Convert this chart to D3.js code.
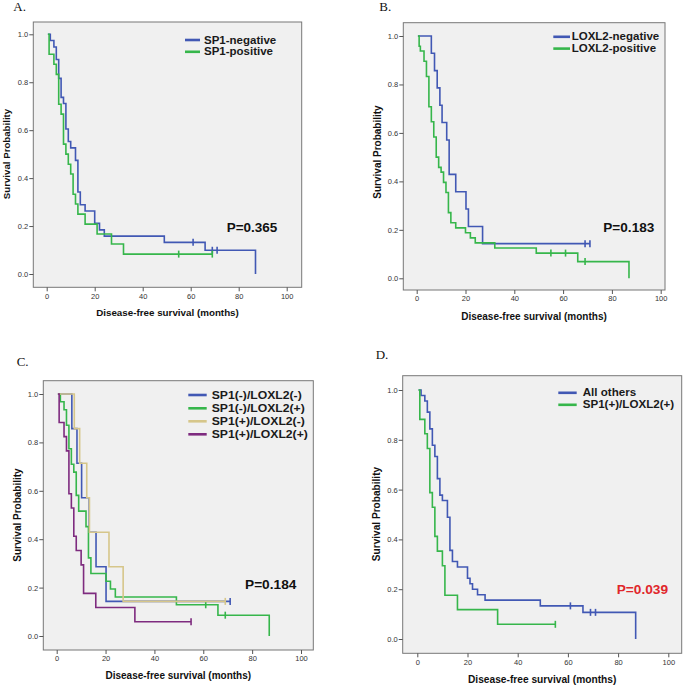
<!DOCTYPE html>
<html><head><meta charset="utf-8">
<script src="https://cdn.jsdelivr.net/npm/d3@7/dist/d3.min.js"></script>
<style>body{margin:0;background:#fff}svg{display:block}</style>
</head><body>
<svg id="c" width="685" height="686"></svg>
<script>
// ---------------- data ----------------
const xTicks = [0, 20, 40, 60, 80, 100];
const yTicks = [0, 0.2, 0.4, 0.6, 0.8, 1.0];
const panelLetters = ["A.", "B.", "C.", "D."];
const pValues = ["P=0.365", "P=0.183", "P=0.184", "P=0.039"];
const xTitle = "Disease-free survival (months)";
const yTitle = "Survival Probability";
const legendA = ["SP1-negative", "SP1-positive"];
const legendB = ["LOXL2-negative", "LOXL2-positive"];
const legendC = ["SP1(-)/LOXL2(-)", "SP1(-)/LOXL2(+)", "SP1(+)/LOXL2(-)", "SP1(+)/LOXL2(+)"];
const legendD = ["All others", "SP1(+)/LOXL2(+)"];

// Panel A
const aNegTime   = [1.5, 3, 4, 5, 6, 7, 8, 9, 10, 12, 13, 14, 16, 20, 22, 24, 49, 66, 87];
const aNegSurv   = [0.974, 0.947, 0.895, 0.816, 0.737, 0.711, 0.605, 0.553, 0.526, 0.474, 0.342, 0.289, 0.263, 0.211, 0.184, 0.158, 0.132, 0.099, 0];
const aNegCensor = [61, 69, 71];
const aPosTime   = [1, 3, 4, 5, 6, 7, 8, 9, 10, 11, 12, 13, 16, 21, 27, 32];
const aPosSurv   = [0.917, 0.875, 0.833, 0.708, 0.667, 0.542, 0.5, 0.458, 0.417, 0.333, 0.292, 0.25, 0.208, 0.167, 0.125, 0.083];
const aPosCensor = [55, 69];

// Panel B
const bNegTime   = [6, 7.3, 8.4, 9.5, 10.4, 12.3, 13.3, 16, 20.2, 21.2, 27];
const bNegSurv   = [0.929, 0.857, 0.786, 0.714, 0.643, 0.571, 0.429, 0.357, 0.286, 0.214, 0.143];
const bNegCensor = [69, 71];
const bPosTime   = [1, 1.5, 3, 4, 5, 6, 7, 8, 9, 10, 11, 12, 13, 14, 16, 20, 22, 24, 32, 49, 66, 87];
const bPosSurv   = [0.958, 0.938, 0.896, 0.833, 0.708, 0.646, 0.583, 0.5, 0.458, 0.438, 0.396, 0.354, 0.271, 0.229, 0.208, 0.188, 0.167, 0.146, 0.125, 0.104, 0.069, 0];
const bPosCensor = [55, 61, 69];

// Panel C
const cNNTime   = [6.2, 8.3, 10.2, 13.3, 16.1, 20.2];
const cNNSurv   = [0.857, 0.714, 0.571, 0.429, 0.286, 0.143];
const cNNCensor = [71];
const cNPTime   = [1.5, 3, 4, 5, 6, 7, 8, 9, 12, 13, 14, 20.2, 22, 24, 49, 66, 87];
const cNPSurv   = [0.968, 0.935, 0.871, 0.774, 0.710, 0.677, 0.581, 0.516, 0.452, 0.323, 0.258, 0.226, 0.194, 0.161, 0.129, 0.086, 0];
const cNPCensor = [61, 69];
const cPNTime   = [7.2, 9.4, 12.3, 13.4, 21.4, 27.2];
const cPNSurv   = [0.857, 0.714, 0.571, 0.429, 0.286, 0.143];
const cPNCensor = [69];
const cPPTime   = [1, 3, 4, 5, 6, 7, 8, 10, 11, 16, 32];
const cPPSurv   = [0.882, 0.824, 0.765, 0.588, 0.529, 0.412, 0.353, 0.294, 0.176, 0.118, 0.059];
const cPPCensor = [55];

// Panel D
const dOthTime   = [1.5, 3, 4, 5, 6, 7, 8, 9, 10, 12, 13, 14, 16, 20, 21, 22, 24, 27, 49, 66, 87];
const dOthSurv   = [0.978, 0.956, 0.911, 0.844, 0.778, 0.733, 0.644, 0.578, 0.556, 0.489, 0.356, 0.311, 0.289, 0.244, 0.222, 0.2, 0.178, 0.156, 0.133, 0.107, 0];
const dOthCensor = [61, 69, 71];
const dPPTime    = [1, 3, 4, 5, 6, 7, 8, 10, 11, 16, 32];
const dPPSurv    = [0.882, 0.824, 0.765, 0.588, 0.529, 0.412, 0.353, 0.294, 0.176, 0.118, 0.059];
const dPPCensor  = [55];

// ---------------- styles / layout ----------------
const BLUE = "#4158b4", GREEN = "#36b64b", TAN = "#d6c68a", PURPLE = "#7e2b7f";
const START = 0.5;
const SANS = "'Liberation Sans',Arial,sans-serif";

const panels = [
  { frame:[33.3,22,301.7,287.3], x0:46.7, x100:286.7, y1:34.3, y0:274,
    letter:[13.3,10.7], legX:[185,200], legY:[40,51.8], legTX:204, legFS:11.5, legDraw:10.1, legend:legendA,
    p:[226.7,231.5], pFS:13.5, pColor:"#111", xt:[167.5,315.5], xtFS:9.8, yt:[6.6,154], ytFS:9.7,
    curves:[[aNegTime,aNegSurv,aNegCensor,BLUE],[aPosTime,aPosSurv,aPosCensor,GREEN]] },
  { frame:[403.3,22.7,665,290], x0:416.7, x100:660.7, y1:36, y0:278.3,
    letter:[379.3,10.7], legX:[553.3,570], legY:[36.8,48.6], legTX:571.7, legFS:11.5, legDraw:10.1, legend:legendB,
    p:[603.3,231.5], pFS:13.6, pColor:"#111", xt:[534,319.5], xtFS:10, yt:[377,152], ytFS:10,
    curves:[[bNegTime,bNegSurv,bNegCensor,BLUE],[bPosTime,bPosSurv,bPosCensor,GREEN]] },
  { frame:[43.3,380.7,313.3,650], x0:56.7, x100:301, y1:394, y0:636,
    letter:[16.7,366], legX:[188.3,206.7], legY:[395,408.3,421.3,434.3], legTX:211.7, legFS:12.2, legDraw:11.2, legend:legendC,
    p:[245,589], pFS:13.7, pColor:"#111", xt:[178.3,679], xtFS:10, yt:[17.3,515], ytFS:10,
    curves:[[cNNTime,cNNSurv,cNNCensor,BLUE],[cNPTime,cNPSurv,cNPCensor,GREEN],[cPNTime,cPNSurv,cPNCensor,TAN],[cPPTime,cPPSurv,cPPCensor,PURPLE]] },
  { frame:[402.7,375.7,681.7,653.3], x0:417.3, x100:668.3, y1:390, y0:639,
    letter:[375.7,359], legX:[558.3,576.7], legY:[392.8,404.8], legTX:582.7, legFS:11.6, legDraw:10.2, legend:legendD,
    p:[616.7,594], pFS:13.7, pColor:"#e0262b", xt:[542.2,682.5], xtFS:10.2, yt:[376.5,514], ytFS:10.1,
    curves:[[dOthTime,dOthSurv,dOthCensor,BLUE],[dPPTime,dPPSurv,dPPCensor,GREEN]] }
];

const svg = d3.select("#c");
svg.append("rect").attr("width",685).attr("height",686).attr("fill","#fff");

panels.forEach((P, i) => {
  const g = svg.append("g");
  const x = d3.scaleLinear().domain([0,100]).range([P.x0, P.x100]);
  const y = d3.scaleLinear().domain([0,1]).range([P.y0, P.y1]);
  const [fx0, fy0, fx1, fy1] = P.frame;

  g.append("rect").attr("x",fx0).attr("y",fy0).attr("width",fx1-fx0).attr("height",fy1-fy0)
    .attr("fill","#f0f0f0").attr("stroke","#777").attr("stroke-width",1);

  const xAxis = d3.axisBottom(x).tickValues(xTicks).tickSize(4).tickPadding(2).tickFormat(d3.format("d"));
  const xa = g.append("g").attr("transform",`translate(0,${fy1})`).call(xAxis);
  const yAxis = d3.axisLeft(y).tickValues(yTicks).tickSize(4).tickPadding(1).tickFormat(d3.format(".1f"));
  const ya = g.append("g").attr("transform",`translate(${fx0},0)`).call(yAxis);
  [xa, ya].forEach(a => {
    a.select(".domain").remove();
    a.selectAll(".tick line").attr("stroke","#555");
    a.selectAll(".tick text").attr("fill","#333").style("font-family",SANS).style("font-size","7.5px");
  });

  const line = d3.line().x(d => x(d[0])).y(d => y(d[1])).curve(d3.curveStepAfter);
  P.curves.forEach(([times, surv, cens, col]) => {
    const pts = [[START, 1]];
    times.forEach((t, k) => pts.push([t, surv[k]]));
    const last = surv[surv.length-1];
    const endT = d3.max(cens) || 0;
    if (last > 0 && endT > times[times.length-1]) pts.push([endT, last]);
    g.append("path").attr("d", line(pts)).attr("fill","none").attr("stroke",col)
      .attr("stroke-width",1.6);
    cens.forEach(c => {
      let s = 1;
      times.forEach((t, k) => { if (t <= c) s = surv[k]; });
      g.append("line").attr("x1",x(c)).attr("x2",x(c)).attr("y1",y(s)-3.5).attr("y2",y(s)+3.5)
        .attr("stroke",col).attr("stroke-width",1.6);
    });
  });

  // legend: measure natural width at reference size, draw at smaller size stretched to that width
  P.legend.forEach((name, k) => {
    const col = P.curves[k][3];
    g.append("line").attr("x1",P.legX[0]).attr("x2",P.legX[1]).attr("y1",P.legY[k]).attr("y2",P.legY[k])
      .attr("stroke",col).attr("stroke-width",2.6);
    const t = g.append("text").attr("x",P.legTX).text(name)
      .style("font-family",SANS).style("font-weight","bold")
      .style("font-size",P.legFS+"px").attr("fill","#1a1a1a");
    const w = t.node().getComputedTextLength();
    t.style("font-size",P.legDraw+"px").attr("textLength",w).attr("lengthAdjust","spacingAndGlyphs")
      .attr("y",P.legY[k] + P.legDraw*0.36);
  });

  g.append("text").attr("x",P.p[0]).attr("y",P.p[1]).text(pValues[i])
    .style("font-family",SANS).style("font-weight","bold")
    .style("font-size",P.pFS+"px").attr("fill",P.pColor);

  g.append("text").attr("x",P.xt[0]).attr("y",P.xt[1]).attr("text-anchor","middle").text(xTitle)
    .style("font-family",SANS).style("font-weight","bold")
    .style("font-size",P.xtFS+"px").attr("fill","#111");
  g.append("text").attr("transform",`translate(${P.yt[0]},${P.yt[1]}) rotate(-90)`)
    .attr("text-anchor","middle").attr("dy","0.35em").text(yTitle)
    .style("font-family",SANS).style("font-weight","bold")
    .style("font-size",P.ytFS+"px").attr("fill","#111");

  g.append("text").attr("x",P.letter[0]).attr("y",P.letter[1]).text(panelLetters[i])
    .style("font-family","'Liberation Serif','Times New Roman',serif")
    .style("font-size","13px").attr("fill","#111");
});
</script>
</body></html>
